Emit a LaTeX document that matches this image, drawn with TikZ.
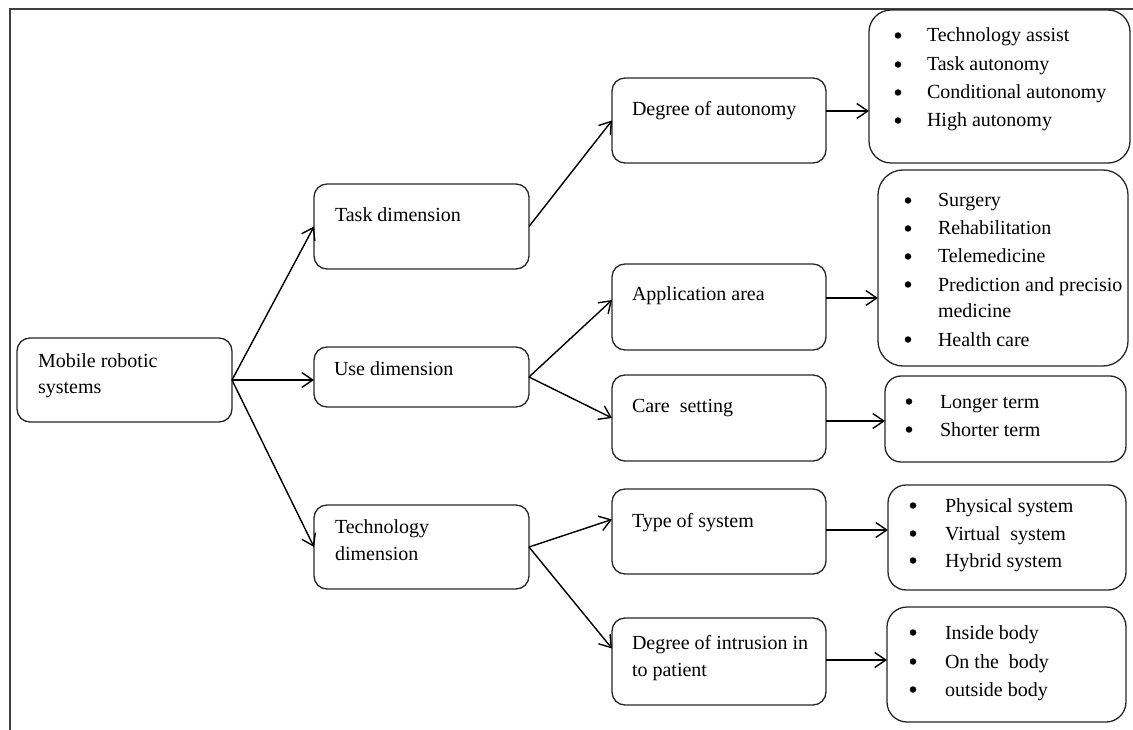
\documentclass[tikz,border=0pt]{standalone}
\usepackage{fontspec}
\setmainfont{Liberation Serif}
\usetikzlibrary{arrows.meta,calc}
\tikzset{
  box/.style={draw=black!85, line width=1.3pt, rounded corners=13pt, inner sep=0pt, outer sep=0pt},
  txt/.style={inner sep=0pt, outer sep=0pt, anchor=base west, font=\fontsize{20}{24}\selectfont},
  bul/.style={circle, fill=black, inner sep=0pt, outer sep=0pt, minimum size=6.5pt, yshift=6.5pt},
  arr/.style={line width=1.4pt, -{Straight Barb[length=11pt,width=15pt,line width=1.4pt]}},
  frame/.style={line width=2pt, draw=black!75}
}
\begin{document}
\begin{tikzpicture}[x=1pt,y=-1pt]
\useasboundingbox (0,0) rectangle (1133,730);
\draw[frame] (10,730) -- (10,9) -- (1133,9);

% first column
\node[box, minimum width=215pt, minimum height=84pt] (root) at (124.5,380) {};
% second column
\node[box, minimum width=215pt, minimum height=85pt] (task) at (421.5,226.5) {};
\node[box, minimum width=215pt, minimum height=60pt] (use) at (421.5,377) {};
\node[box, minimum width=215pt, minimum height=84pt] (tech) at (421.5,547) {};
% third column
\node[box, minimum width=214pt, minimum height=85pt] (auto) at (719,120.5) {};
\node[box, minimum width=214pt, minimum height=86pt] (app) at (719,307) {};
\node[box, minimum width=214pt, minimum height=86pt] (care) at (719,418) {};
\node[box, minimum width=214pt, minimum height=85pt] (type) at (719,531.5) {};
\node[box, minimum width=214pt, minimum height=87pt] (intr) at (719,661.5) {};
% list boxes
\node[box, rounded corners=22pt, minimum width=261pt, minimum height=153pt] (autol) at (999.5,86.5) {};
\node[box, rounded corners=25pt, minimum width=250pt, minimum height=196pt] (appl) at (1003,268) {};
\node[box, rounded corners=16pt, minimum width=241pt, minimum height=86pt] (carel) at (1005.5,419) {};
\node[box, rounded corners=18pt, minimum width=238pt, minimum height=105pt] (typel) at (1007,537.5) {};
\node[box, rounded corners=20pt, minimum width=239pt, minimum height=115pt] (intrl) at (1006.5,664.5) {};

% texts in boxes
\node[txt] (t1a) at (38,367) {Mobile robotic};
\node[txt] (t1b) at (38,393) {systems};
\node[txt] (t2) at (335,222) {Task dimension};
\node[txt] (t3) at (334,375) {Use dimension};
\node[txt] (t4a) at (335,533) {Technology};
\node[txt] (t4b) at (335,560) {dimension};
\node[txt] (t5) at (632,116) {Degree of autonomy};
\node[txt] (t6) at (632,301) {Application area};
\node[txt] (t7) at (632,412) {Care\ \ setting};
\node[txt] (t8) at (632,527) {Type of system};
\node[txt] (t9a) at (632,649) {Degree of intrusion in};
\node[txt] (t9b) at (632,676) {to patient};

% list texts
\foreach \y/\t [count=\i] in {42/Technology assist,71/Task autonomy,99/Conditional autonomy,127/High autonomy}{
  \node[bul] (ab\i) at (898,\y) {};
  \node[txt] (at\i) at (927,\y) {\t};
}
\foreach \y/\t [count=\i] in {207/Surgery,235/Rehabilitation,263/Telemedicine,291/Prediction and precisio,346/Health care}{
  \node[bul] (pb\i) at (908,\y) {};
  \node[txt] (pt\i) at (938,\y) {\t};
}
\node[txt] (pt6) at (938,317) {medicine};
\foreach \y/\t [count=\i] in {408/Longer term,436/Shorter term}{
  \node[bul] (cb\i) at (909,\y) {};
  \node[txt] (ct\i) at (940,\y) {\t};
}
\foreach \y/\t [count=\i] in {512/Physical system,540/Virtual\ \ system,567/Hybrid system}{
  \node[bul] (yb\i) at (913,\y) {};
  \node[txt] (yt\i) at (945,\y) {\t};
}
\foreach \y/\t [count=\i] in {639/Inside body,668/On the\ \ body,696/outside body}{
  \node[bul] (ib\i) at (913,\y) {};
  \node[txt] (it\i) at (945,\y) {\t};
}

% connectors
\draw[arr] (root.east) -- (task.west);
\draw[arr] (root.east) -- (use.west |- root.east);
\draw[arr] (root.east) -- (tech.west);
\draw[arr] (task.east) -- (auto.west);
\draw[arr] (use.east) -- ([yshift=7pt]app.west);
\draw[arr] (use.east) -- (care.west);
\draw[arr] (tech.east) -- ([yshift=12pt]type.west);
\draw[arr] (tech.east) -- ([yshift=13pt]intr.west);

\draw[arr] ([yshift=9.5pt]auto.east) coordinate (s1) -- (s1 -| autol.west);
\draw[arr] ([yshift=9pt]app.east) coordinate (s2) -- (s2 -| appl.west);
\draw[arr] ([yshift=-3pt]care.east) coordinate (s3) -- (s3 -| carel.west);
\draw[arr] ([yshift=1.5pt]type.east) coordinate (s4) -- (s4 -| typel.west);
\draw[arr] ([yshift=1.5pt]intr.east) coordinate (s5) -- (s5 -| intrl.west);
\end{tikzpicture}
\end{document}
